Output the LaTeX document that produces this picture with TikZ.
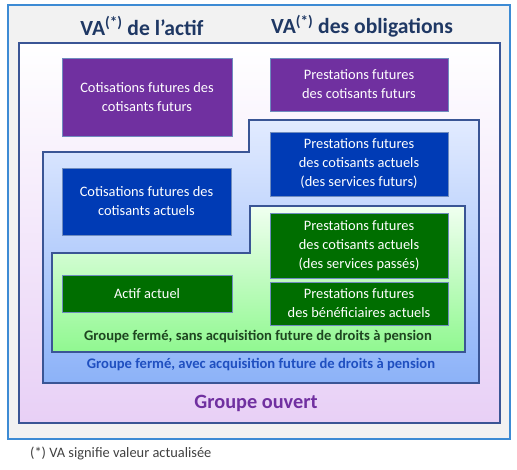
\documentclass[tikz,border=0pt]{standalone}
\usepackage{fontspec}
\setmainfont{Carlito}
\definecolor{frameblue}{HTML}{3D8BD4}
\definecolor{framefill}{HTML}{F2F2F2}
\definecolor{regionline}{HTML}{3A5595}
\definecolor{boxpurple}{HTML}{7030A0}
\definecolor{boxblue}{HTML}{003BB5}
\definecolor{boxgreen}{HTML}{006E00}
\definecolor{boxline}{HTML}{6F8CBF}
\definecolor{headnavy}{HTML}{1F3864}
\definecolor{txtgreen}{HTML}{1E4620}
\definecolor{txtblue}{HTML}{1F4FC0}
\definecolor{txtpurple}{HTML}{7030A0}
\definecolor{footgray}{HTML}{404040}
\tikzset{
  cbox/.style={draw=boxline, line width=0.8pt, text=white, align=center,
    inner sep=0pt, font=\fontsize{14.4}{19}\selectfont},
  region/.style={draw=regionline, line width=1.2pt},
  head/.style={text=headnavy, font=\fontsize{21.6}{26}\selectfont\bfseries},
  lbl/.style={font=\fontsize{14.6}{17}\selectfont\bfseries},
}
\begin{document}
\begin{tikzpicture}[x=1pt,y=-1pt]
\useasboundingbox (0,0) rectangle (517,469);
% outer frame
\draw[draw=frameblue, fill=framefill, line width=1.8pt] (8,5) rectangle (510,439);
% open group region
\shade[top color=white, bottom color={rgb,255:red,232;green,208;blue,246}] (19,43) rectangle (500,423);
\draw[region] (19,43) rectangle (500,423);
% closed group with future accrual
\coordinate (b1) at (43,152); \coordinate (b2) at (249,152); \coordinate (b3) at (249,120);
\coordinate (b4) at (479,120); \coordinate (b5) at (479,383); \coordinate (b6) at (43,383);
\shade[top color={rgb,255:red,226;green,235;blue,255}, bottom color={rgb,255:red,140;green,178;blue,248}]
  (b1) -- (b2) -- (b3) -- (b4) -- (b5) -- (b6) -- cycle;
\draw[region] (b1) -- (b2) -- (b3) -- (b4) -- (b5) -- (b6) -- cycle;
% closed group without future accrual
\coordinate (g1) at (52,253); \coordinate (g2) at (250,253); \coordinate (g3) at (250,206);
\coordinate (g4) at (465,206); \coordinate (g5) at (465,352); \coordinate (g6) at (52,352);
\shade[top color={rgb,255:red,240;green,255;blue,240}, bottom color={rgb,255:red,144;green,248;blue,144}]
  (g1) -- (g2) -- (g3) -- (g4) -- (g5) -- (g6) -- cycle;
\draw[region] (g1) -- (g2) -- (g3) -- (g4) -- (g5) -- (g6) -- cycle;
% headings
\node[head] (h1) at (142,26) {VA\textsuperscript{(*)} de l’actif};
\node[head] (h2) at (362,26) {VA\textsuperscript{(*)} des obligations};
% boxes
\node[cbox, fill=boxpurple, minimum width=170pt, minimum height=78pt] (p1) at (147,97) {Cotisations futures des\\cotisants futurs};
\node[cbox, fill=boxpurple, minimum width=178pt, minimum height=53pt] (p2) at (359,84.5) {Prestations futures\\des cotisants futurs};
\node[cbox, fill=boxblue, minimum width=178pt, minimum height=64pt] (bb1) at (359,164) {Prestations futures\\des cotisants actuels\\(des services futurs)};
\node[cbox, fill=boxblue, minimum width=169pt, minimum height=67pt] (bb2) at (146.5,201.5) {Cotisations futures des\\cotisants actuels};
\node[cbox, fill=boxgreen, minimum width=178pt, minimum height=65pt] (gg1) at (359,245.5) {Prestations futures\\des cotisants actuels\\(des services passés)};
\node[cbox, fill=boxgreen, minimum width=170pt, minimum height=37pt] (gg2) at (147,293.5) {Actif actuel};
\node[cbox, fill=boxgreen, minimum width=178pt, minimum height=43pt] (gg3) at (359,303.5) {Prestations futures\\des bénéficiaires actuels};
% region labels
\node[lbl, text=txtgreen] (l1) at (258,337) {Groupe fermé, sans acquisition future de droits à pension};
\node[lbl, text=txtblue] (l2) at (261,365) {Groupe fermé, avec acquisition future de droits à pension};
\node[text=txtpurple, font=\fontsize{20.3}{24}\selectfont\bfseries] (l3) at (256,403) {Groupe ouvert};
\node[text=footgray, font=\fontsize{14.4}{17}\selectfont, anchor=west, inner sep=0pt] (fn) at (30,453) {(*) VA signifie valeur actualisée};
\end{tikzpicture}
\end{document}
